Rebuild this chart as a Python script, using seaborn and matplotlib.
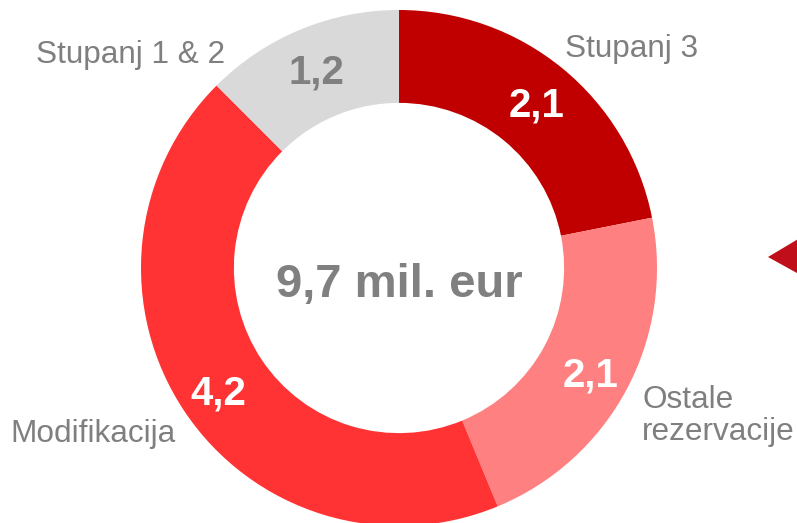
import numpy as np
import matplotlib
matplotlib.use('Agg')
import matplotlib.pyplot as plt
import seaborn as sns
from matplotlib.patches import Polygon

# data
categories = ['Stupanj 3', 'Ostale\nrezervacije', 'Modifikacija', 'Stupanj 1 & 2']
values = [2.1, 2.1, 4.2, 1.2]
value_labels = ['2,1', '2,1', '4,2', '1,2']
total_label = '9,7 mil. eur'

colors = sns.color_palette(['#C00000', '#FF8080', '#FF3333', '#D9D9D9'])
num_colors = ['white', 'white', 'white', '#808080']

sns.set_theme(style='white')
plt.rcParams['font.family'] = ['Liberation Sans', 'DejaVu Sans']

fig = plt.figure(figsize=(7.97, 5.23), dpi=100)
ax = fig.add_axes([0, 0, 1, 1])

# pixel frame: centre (399, 268), radius 258 px
R = 258.0
cx, cy = 399.0, 268.0

wedges, _ = ax.pie(values, colors=colors, startangle=90, counterclock=False,
                   radius=1.0, wedgeprops=dict(width=0.36, linewidth=0))

# value labels inside ring at the wedge middle
for w, lab, c in zip(wedges, value_labels, num_colors):
    ang = np.deg2rad((w.theta1 + w.theta2) / 2)
    ax.text(0.84 * np.cos(ang), 0.84 * np.sin(ang) - 0.02, lab, ha='center', va='center',
            fontsize=29, fontweight='bold', color=c)

# category labels, positions in pixels (left, baseline of last line)
label_pos = [(565, 57), (642, 440), (10, 442), (36, 63)]
gray = '#7F7F7F'
for lab, (px, py) in zip(categories, label_pos):
    ax.text((px - cx) / R, (cy - py) / R, lab, ha='left', va='baseline',
            fontsize=22.7, color=gray, linespacing=1.1)

ax.text(0, (cy - 297) / R, total_label, ha='center', va='baseline',
        fontsize=34, fontweight='bold', color='#808080')

# small arrow at the right edge
tri = [(768, 257), (815, 229), (815, 283)]
ax.add_patch(Polygon([((x - cx) / R, (cy - y) / R) for x, y in tri],
                     closed=True, color='#C00F1A', linewidth=0))

ax.set_xlim(-cx / R, (797 - cx) / R)
ax.set_ylim(-(523 - cy) / R, cy / R)
ax.set_aspect('auto')
ax.axis('off')

fig.savefig('out.png', dpi=100)
